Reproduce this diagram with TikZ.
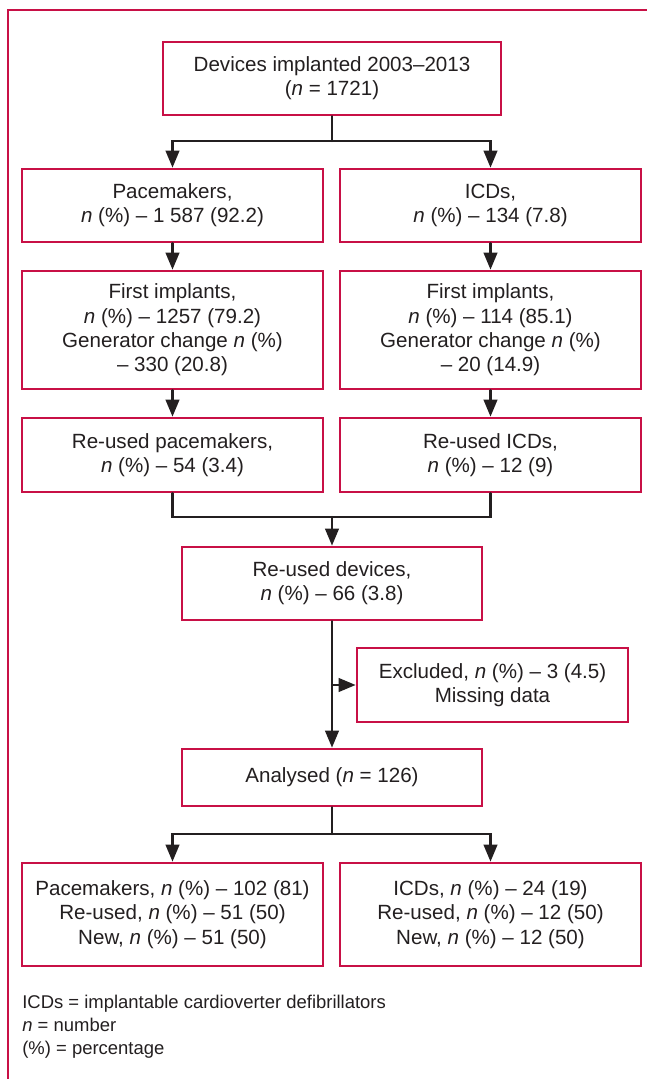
\documentclass[tikz,border=0pt]{standalone}
\usepackage{fontspec}
\setmainfont{Liberation Sans}
\usetikzlibrary{arrows.meta}
\definecolor{framered}{RGB}{200,16,70}
\definecolor{inkgray}{RGB}{35,31,32}

\begin{document}
\begin{tikzpicture}[line cap=round,x=1.0cm,y=1.0cm,
	flowbox/.style={draw=framered,line width=1.5pt,line join=miter,fill=white,text=inkgray,align=center,
		minimum width=6.02cm,minimum height=1.46cm,inner sep=2pt,font=\fontsize{11.7}{13.8}\selectfont},
	flowline/.style={line width=1.4pt,color=inkgray,line join=miter},
	flowarrow/.style={flowline,-{Triangle[length=0.34cm,width=0.27cm]}}]
	\useasboundingbox (0.,0.) rectangle (12.94,21.58);
	\draw [color=framered,line width=1.5pt,line cap=butt,line join=miter] (0.16,0.) -- (0.16,21.38) -- (12.94,21.38);
	% boxes
	\node[flowbox,minimum width=6.76cm] (top) at (6.64,20.01) {Devices implanted 2003–2013\\(\textit{n} = 1721)};
	\node[flowbox] (pace) at (3.45,17.47) {Pacemakers,\\\textit{n} (\%) – 1 587 (92.2)};
	\node[flowbox] (icd) at (9.81,17.47) {ICDs,\\\textit{n} (\%) – 134 (7.8)};
	\node[flowbox,minimum height=2.36cm] (pacefirst) at (3.45,14.98) {First implants,\\\textit{n} (\%) – 1257 (79.2)\\Generator change \textit{n} (\%)\\– 330 (20.8)};
	\node[flowbox,minimum height=2.36cm] (icdfirst) at (9.81,14.98) {First implants,\\\textit{n} (\%) – 114 (85.1)\\Generator change \textit{n} (\%)\\– 20 (14.9)};
	\node[flowbox,minimum height=1.48cm] (pacereused) at (3.45,12.48) {Re-used pacemakers,\\\textit{n} (\%) – 54 (3.4)};
	\node[flowbox,minimum height=1.48cm] (icdreused) at (9.81,12.48) {Re-used ICDs,\\\textit{n} (\%) – 12 (9)};
	\node[flowbox,minimum width=6.0cm] (devices) at (6.64,9.91) {Re-used devices,\\\textit{n} (\%) – 66 (3.8)};
	\node[flowbox,minimum width=5.42cm,minimum height=1.48cm] (excluded) at (9.85,7.88) {Excluded, \textit{n} (\%) – 3 (4.5)\\Missing data};
	\node[flowbox,minimum width=6.0cm,minimum height=1.14cm] (analysed) at (6.64,6.03) {Analysed (\textit{n} = 126)};
	\node[flowbox,minimum height=2.06cm] (pacefinal) at (3.45,3.29) {Pacemakers, \textit{n} (\%) – 102 (81)\\Re-used, \textit{n} (\%) – 51 (50)\\New, \textit{n} (\%) – 51 (50)};
	\node[flowbox,minimum height=2.06cm] (icdfinal) at (9.81,3.29) {ICDs, \textit{n} (\%) – 24 (19)\\Re-used, \textit{n} (\%) – 12 (50)\\New, \textit{n} (\%) – 12 (50)};
	% connectors
	\coordinate (split) at (6.64,18.76);
	\coordinate (merge) at (6.64,11.24);
	\coordinate (split2) at (6.64,4.90);
	\draw [flowline] (top.south) -- (split);
	\draw [flowarrow] (split) -| (pace.north);
	\draw [flowarrow] (split) -| (icd.north);
	\draw [flowarrow] (pace.south) -- (pacefirst.north);
	\draw [flowarrow] (icd.south) -- (icdfirst.north);
	\draw [flowarrow] (pacefirst.south) -- (pacereused.north);
	\draw [flowarrow] (icdfirst.south) -- (icdreused.north);
	\draw [flowline] (pacereused.south) |- (merge) -| (icdreused.south);
	\draw [flowarrow] (merge) -- (devices.north);
	\draw [flowarrow] (devices.south) -- (analysed.north);
	\draw [flowarrow] (devices.south |- excluded.west) -- (excluded.west);
	\draw [flowline] (analysed.south) -- (split2);
	\draw [flowarrow] (split2) -| (pacefinal.north);
	\draw [flowarrow] (split2) -| (icdfinal.north);
	% legend
	\node[anchor=west,inner sep=0pt,text=inkgray,align=left,font=\fontsize{10.5}{13}\selectfont] (legend) at (0.44,1.04) {ICDs = implantable cardioverter defibrillators\\\textit{n} = number\\(\%) = percentage};
\end{tikzpicture}
\end{document}
